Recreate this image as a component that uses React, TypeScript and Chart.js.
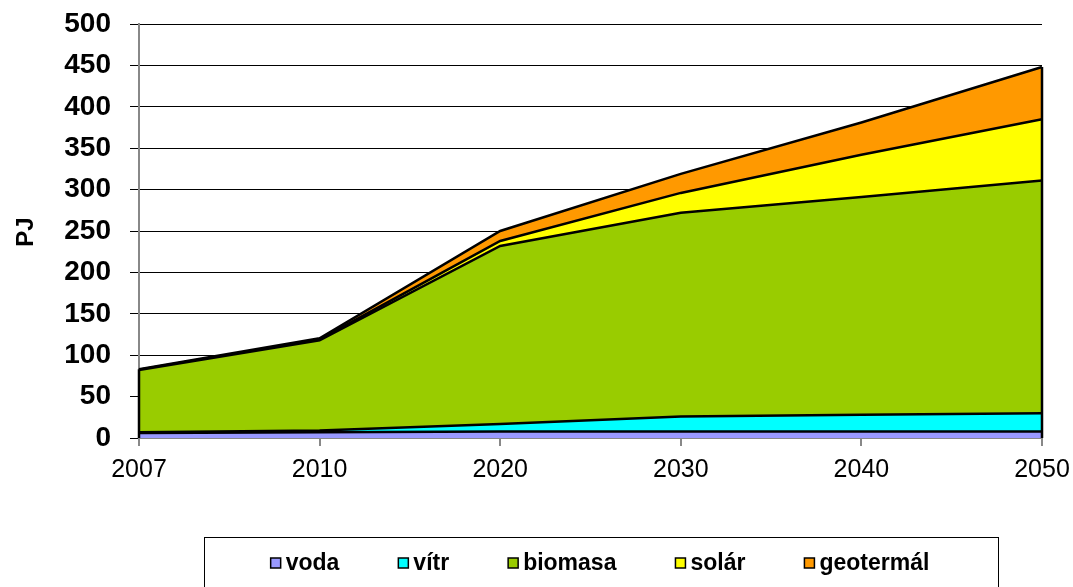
import React, { useEffect, useRef } from "react";
import { Chart, registerables } from "chart.js";

Chart.register(...registerables);

const years = ["2007", "2010", "2020", "2030", "2040", "2050"];
const seriesNames = ["voda", "vítr", "biomasa", "solár", "geotermál"];
const voda = [6, 7, 8, 8, 8, 8];
const vitr = [1, 2, 9, 18, 20, 22];
const biomasa = [75, 109, 215, 246, 263, 281];
const solar = [0.5, 1, 6, 24, 51, 74];
const geotermal = [0.5, 1.5, 12, 23, 39, 63];
const seriesColors = ["#9999FF", "#00FFFF", "#99CC00", "#FFFF00", "#FF9900"];
const yTicks = [0, 50, 100, 150, 200, 250, 300, 350, 400, 450, 500];

const FONT = "'Liberation Sans', Arial, Helvetica, sans-serif";

const endLinesPlugin = {
  id: "endLines",
  afterDatasetsDraw(chart: any) {
    const { ctx, scales } = chart;
    const n = chart.data.labels.length;
    ctx.save();
    ctx.strokeStyle = "#000";
    ctx.lineWidth = 2.5;
    [0, n - 1].forEach((i) => {
      let total = 0;
      chart.data.datasets.forEach((d: any) => (total += d.data[i]));
      const x = scales.x.getPixelForValue(i);
      ctx.beginPath();
      ctx.moveTo(x, scales.y.getPixelForValue(0));
      ctx.lineTo(x, scales.y.getPixelForValue(total));
      ctx.stroke();
    });
    ctx.restore();
  },
};

const legendPlugin = {
  id: "boxLegend",
  afterDraw(chart: any) {
    const ctx = chart.ctx;
    ctx.save();
    ctx.strokeStyle = "#000";
    ctx.lineWidth = 1;
    ctx.strokeRect(204.5, 537.5, 794, 80);
    ctx.font = `bold 23px ${FONT}`;
    ctx.textBaseline = "middle";
    const box = 10;
    const gapBoxText = 5;
    const gapItems = 59;
    const items = chart.data.datasets.map((d: any) => ({
      label: d.label,
      color: d.backgroundColor,
      w: ctx.measureText(d.label).width,
    }));
    let total = 0;
    items.forEach((it: any, i: number) => {
      total += box + gapBoxText + it.w + (i > 0 ? gapItems : 0);
    });
    let x = 600 - total / 2;
    const cy = 563;
    items.forEach((it: any) => {
      ctx.fillStyle = it.color;
      ctx.fillRect(x, cy - box / 2, box, box);
      ctx.lineWidth = 1.5;
      ctx.strokeStyle = "#000";
      ctx.strokeRect(x, cy - box / 2, box, box);
      ctx.fillStyle = "#000";
      ctx.fillText(it.label, x + box + gapBoxText, cy + 1);
      x += box + gapBoxText + it.w + gapItems;
    });
    ctx.translate(33, 232);
    ctx.rotate(-Math.PI / 2);
    ctx.textAlign = "center";
    ctx.textBaseline = "alphabetic";
    ctx.font = `bold 24px ${FONT}`;
    ctx.fillText("PJ", 0, 0);
    ctx.restore();
  },
};

export default function App() {
  const ref = useRef<HTMLCanvasElement | null>(null);

  useEffect(() => {
    document.body.style.margin = "0";
    const values = [voda, vitr, biomasa, solar, geotermal];
    const chart = new Chart(ref.current as HTMLCanvasElement, {
      type: "line",
      data: {
        labels: years,
        datasets: values.map((v, i) => ({
          label: seriesNames[i],
          data: v,
          backgroundColor: seriesColors[i],
          borderColor: "#000",
          borderWidth: 2.5,
          fill: i === 0 ? "origin" : "-1",
          pointRadius: 0,
          tension: 0,
        })),
      },
      options: {
        animation: false,
        responsive: false,
        maintainAspectRatio: false,
        layout: { padding: { top: 24, right: 31, bottom: 0, left: 0 } },
        plugins: {
          legend: { display: false },
          tooltip: { enabled: false },
        },
        scales: {
          x: {
            type: "category",
            offset: false,
            grid: {
              display: true,
              drawOnChartArea: false,
              drawTicks: true,
              tickLength: 8,
              color: "#888",
              lineWidth: 2,
            },
            border: { color: "#888", width: 2 },
            ticks: {
              color: "#000",
              font: { family: FONT, size: 25, weight: "normal" },
              padding: 9,
              maxRotation: 0,
              autoSkip: false,
            },
            afterFit(scale: any) {
              scale.height = 149;
              scale.paddingLeft = 0;
              scale.paddingRight = 0;
            },
          },
          y: {
            stacked: true,
            min: 0,
            max: 500,
            afterBuildTicks(scale: any) {
              scale.ticks = yTicks.map((v) => ({ value: v }));
            },
            grid: {
              color: "#000",
              lineWidth: 1,
              tickLength: 9,
              drawTicks: true,
            },
            border: { color: "#888", width: 2 },
            ticks: {
              color: "#000",
              font: { family: FONT, size: 28, weight: "bold" },
              padding: 19,
            },
            afterFit(scale: any) {
              scale.width = 139;
              scale.paddingTop = 0;
              scale.paddingBottom = 0;
            },
          },
        },
      },
      plugins: [endLinesPlugin, legendPlugin],
    } as any);
    return () => chart.destroy();
  }, []);

  return (
    <div style={{ width: 1073, height: 587 }}>
      <canvas ref={ref} width={1073} height={587} style={{ display: "block" }} />
    </div>
  );
}
